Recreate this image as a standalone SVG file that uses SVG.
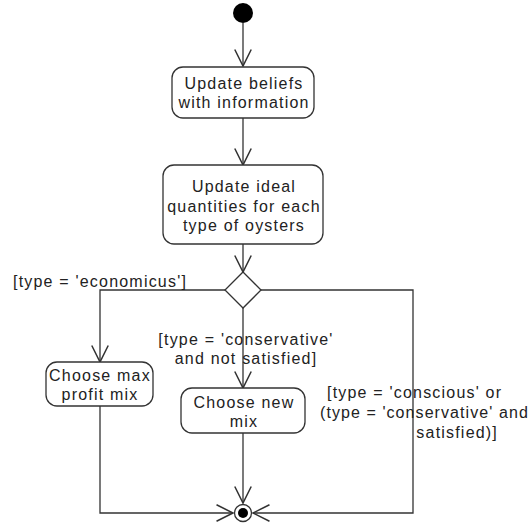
<svg xmlns="http://www.w3.org/2000/svg" width="532" height="526" viewBox="0 0 532 526">
<style>
.box{fill:#fff;stroke:#333;stroke-width:1.3}
.ln{fill:none;stroke:#333;stroke-width:1.3}
text{font-family:"Liberation Sans",Arial,sans-serif;font-size:16px;fill:#222;letter-spacing:1.2px}
.c{text-anchor:middle}
</style>
<defs>
<marker id="v" markerUnits="userSpaceOnUse" markerWidth="20" markerHeight="20" viewBox="-15 -8 17 16" refX="0" refY="0" orient="auto">
<path d="M-14,-7 L0,0 L-14,7" fill="none" stroke="#333" stroke-width="1.3"/>
</marker>
</defs>
<rect width="532" height="526" fill="#fff"/>
<g id="connectors">
<path class="ln" d="M243,23 V66" marker-end="url(#v)"/>
<path class="ln" d="M243,118 V165" marker-end="url(#v)"/>
<path class="ln" d="M243,244 V272" marker-end="url(#v)"/>
<path class="ln" d="M225,290 H100 V362" marker-end="url(#v)"/>
<path class="ln" d="M243,308 V388" marker-end="url(#v)"/>
<path class="ln" d="M261,290 H413 V513 H253" marker-end="url(#v)"/>
<path class="ln" d="M100,406 V513 H233" marker-end="url(#v)"/>
<path class="ln" d="M243,433 V503" marker-end="url(#v)"/>
</g>
<g id="start"><circle cx="243" cy="13" r="10" fill="#000"/></g>
<g id="update-beliefs">
<rect class="box" x="172" y="67" width="142" height="51" rx="11"/>
<text class="c" x="244" y="89">Update beliefs</text>
<text class="c" x="244" y="108">with information</text>
</g>
<g id="update-ideal">
<rect class="box" x="163" y="165" width="160" height="79" rx="11"/>
<text class="c" x="244" y="192">Update ideal</text>
<text class="c" x="244" y="212">quantities for each</text>
<text class="c" x="244" y="231">type of oysters</text>
</g>
<g id="decision">
<path class="box" d="M243,272 L261,290 L243,308 L225,290 Z"/>
</g>
<g id="choose-max">
<rect class="box" x="46" y="362" width="107" height="44" rx="11"/>
<text class="c" x="100" y="381">Choose max</text>
<text class="c" x="100" y="400">profit mix</text>
</g>
<g id="choose-new">
<rect class="box" x="181" y="388" width="124" height="45" rx="11"/>
<text class="c" x="244" y="408">Choose new</text>
<text class="c" x="244" y="427">mix</text>
</g>
<g id="end">
<circle cx="243" cy="513" r="8.5" fill="#fff" stroke="#333" stroke-width="1.3"/>
<circle cx="243" cy="513" r="5" fill="#000"/>
</g>
<g id="labels">
<text x="13" y="287">[type = 'economicus']</text>
<text class="c" x="246" y="345">[type = 'conservative'</text>
<text class="c" x="246" y="364">and not satisfied]</text>
<text x="327" y="398">[type = 'conscious' or</text>
<text x="320" y="418" textLength="209" lengthAdjust="spacing">(type = 'conservative' and</text>
<text x="498" y="438" text-anchor="end">satisfied)]</text>
</g>
</svg>
